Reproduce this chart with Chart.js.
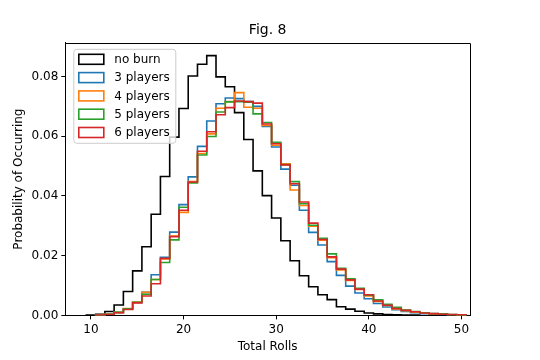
<!DOCTYPE html>
<html>
<head>
<meta charset="utf-8">
<script src="https://cdn.jsdelivr.net/npm/chart.js@4.4.1/dist/chart.umd.min.js"></script>
<style>
  body { margin: 0; background: #fff; }
  #wrap { width: 540px; height: 360px; }
</style>
</head>
<body>
<div id="wrap"><canvas id="histChart" width="540" height="360"></canvas></div>
<script>
// Bin centres (total rolls), bins are 1 wide
const totals = [10, 11, 12, 13, 14, 15, 16, 17, 18, 19, 20, 21, 22, 23, 24, 25, 26, 27, 28, 29,
  30, 31, 32, 33, 34, 35, 36, 37, 38, 39, 40, 41, 42, 43, 44, 45, 46, 47, 48, 49, 50];

const noBurn = [0.0001, 0.0004, 0.0013, 0.0035, 0.0080, 0.0149, 0.0230, 0.0339, 0.0465, 0.0597,
  0.0693, 0.0802, 0.0841, 0.0870, 0.0799, 0.0766, 0.0679, 0.0589, 0.0484, 0.0401,
  0.0326, 0.0250, 0.0183, 0.0133, 0.0096, 0.0069, 0.0053, 0.0029, 0.0021, 0.0014,
  0.0008, 0.0005, 0.0003, 0.0002, 0.0001, 0.0001, 0, 0, 0, 0, 0];
const players3 = [0, 0.0001, 0.0004, 0.0010, 0.0022, 0.0043, 0.0077, 0.0136, 0.0195, 0.0279,
  0.0371, 0.0464, 0.0566, 0.0651, 0.0709, 0.0728, 0.0726, 0.0716, 0.0700, 0.0633,
  0.0564, 0.0490, 0.0436, 0.0352, 0.0278, 0.0236, 0.0180, 0.0134, 0.0098, 0.0075,
  0.0056, 0.0040, 0.0028, 0.0019, 0.0013, 0.0009, 0.0006, 0.0004, 0.0003, 0.0002, 0.0001];
const players4 = [0, 0.0001, 0.0004, 0.0010, 0.0023, 0.0045, 0.0077, 0.0120, 0.0189, 0.0266,
  0.0345, 0.0448, 0.0542, 0.0608, 0.0694, 0.0716, 0.0746, 0.0697, 0.0694, 0.0636,
  0.0570, 0.0508, 0.0420, 0.0368, 0.0299, 0.0252, 0.0193, 0.0152, 0.0117, 0.0087,
  0.0065, 0.0047, 0.0033, 0.0022, 0.0016, 0.0011, 0.0008, 0.0005, 0.0004, 0.0002, 0.0001];
const players5 = [0, 0.0001, 0.0004, 0.0010, 0.0022, 0.0044, 0.0071, 0.0120, 0.0177, 0.0253,
  0.0362, 0.0444, 0.0537, 0.0599, 0.0681, 0.0715, 0.0716, 0.0714, 0.0675, 0.0646,
  0.0580, 0.0505, 0.0448, 0.0374, 0.0302, 0.0258, 0.0206, 0.0158, 0.0123, 0.0091,
  0.0068, 0.0052, 0.0037, 0.0027, 0.0018, 0.0013, 0.0009, 0.0006, 0.0005, 0.0003, 0.0002];
const players6 = [0, 0.0001, 0.0003, 0.0009, 0.0020, 0.0042, 0.0065, 0.0106, 0.0191, 0.0264,
  0.0352, 0.0447, 0.0550, 0.0615, 0.0672, 0.0696, 0.0718, 0.0716, 0.0711, 0.0641,
  0.0575, 0.0504, 0.0441, 0.0380, 0.0309, 0.0254, 0.0196, 0.0155, 0.0119, 0.0088,
  0.0069, 0.0048, 0.0034, 0.0023, 0.0017, 0.0012, 0.0008, 0.0006, 0.0004, 0.0003, 0.0002];

const seriesLabels = ['no burn', '3 players', '4 players', '5 players', '6 players'];
const seriesColors = ['#000000', '#1f77b4', '#ff7f0e', '#2ca02c', '#d62728'];
const xTicks = [10, 20, 30, 40, 50];
const yTicks = [0, 0.02, 0.04, 0.06, 0.08];

const FONT = 'DejaVu Sans';

// turn bin values into an outline like matplotlib's histtype='step'
function stepPoints(values) {
  let first = values.findIndex(v => v > 0);
  let last = values.length - 1;
  while (last > first && values[last] === 0) last--;
  const pts = [{x: totals[first] - 0.5, y: 0}];
  for (let i = first; i <= last; i++) {
    pts.push({x: totals[i] - 0.5, y: values[i]});
  }
  pts.push({x: totals[last] + 0.5, y: 0});
  return pts;
}

const allSeries = [noBurn, players3, players4, players5, players6];

const histData = {
  datasets: allSeries.map((vals, i) => ({
    label: seriesLabels[i],
    data: stepPoints(vals),
    borderColor: seriesColors[i],
    borderWidth: 1.6,
    pointRadius: 0,
    fill: false,
    stepped: true,
    order: allSeries.length - i // later series drawn on top
  }))
};

// legend box drawn inside the axes, top left
const stepLegend = {
  id: 'stepLegend',
  afterDatasetsDraw(chart) {
    const {ctx, chartArea} = chart;
    const x0 = chartArea.left + 8;
    const y0 = chartArea.top + 6;
    const w = 102, h = 94, r = 3;
    ctx.save();
    ctx.beginPath();
    ctx.roundRect(x0 + 0.5, y0 + 0.5, w, h, r);
    ctx.fillStyle = 'rgba(255,255,255,0.8)';
    ctx.fill();
    ctx.strokeStyle = '#cccccc';
    ctx.lineWidth = 1;
    ctx.stroke();
    ctx.font = '12px ' + FONT;
    ctx.textBaseline = 'middle';
    ctx.textAlign = 'left';
    chart.data.datasets.forEach((ds, i) => {
      const cy = y0 + 10.5 + i * 18.3;
      ctx.strokeStyle = ds.borderColor;
      ctx.lineWidth = 1.6;
      ctx.strokeRect(x0 + 5.5, cy - 5, 25, 10);
      ctx.fillStyle = '#000';
      ctx.fillText(ds.label, x0 + 41, cy + 0.5);
    });
    ctx.restore();
  }
};

// top and right spines
const frame = {
  id: 'frame',
  afterDraw(chart) {
    const {ctx, chartArea: a} = chart;
    ctx.save();
    ctx.strokeStyle = '#000';
    ctx.lineWidth = 1;
    ctx.beginPath();
    ctx.moveTo(Math.round(a.left) + 0.5, Math.round(a.top) + 0.5);
    ctx.lineTo(Math.round(a.right) + 0.5, Math.round(a.top) + 0.5);
    ctx.lineTo(Math.round(a.right) + 0.5, Math.round(a.bottom) + 0.5);
    ctx.stroke();
    ctx.restore();
  }
};

const histConfig = {
  type: 'line',
  data: histData,
  options: {
    responsive: false,
    animation: false,
    events: [],
    layout: {
      padding: {left: 0, right: 70, top: 0, bottom: 0}
    },
    scales: {
      x: {
        type: 'linear',
        min: 7.23,
        max: 50.92,
        afterBuildTicks: (s) => { s.ticks = xTicks.map(v => ({value: v})); },
        afterFit: (s) => { s.height = 44.6; },
        grid: {drawOnChartArea: false, drawTicks: true, tickLength: 4, tickColor: '#000'},
        border: {display: true, color: '#000', width: 1},
        ticks: {color: '#000', padding: 3, maxRotation: 0, font: {family: FONT, size: 12}},
        title: {
          display: true,
          text: 'Total Rolls',
          color: '#000',
          font: {family: FONT, size: 12},
          padding: {top: 0, bottom: 6}
        }
      },
      y: {
        type: 'linear',
        min: 0,
        max: 0.0913,
        afterBuildTicks: (s) => { s.ticks = yTicks.map(v => ({value: v})); },
        afterFit: (s) => { s.width = 65.3; },
        grid: {drawOnChartArea: false, drawTicks: true, tickLength: 4, tickColor: '#000'},
        border: {display: true, color: '#000', width: 1},
        ticks: {
          color: '#000',
          padding: 3,
          font: {family: FONT, size: 12},
          callback: (v) => v.toFixed(2)
        },
        title: {
          display: true,
          text: 'Probability of Occurring',
          color: '#000',
          font: {family: FONT, size: 12},
          padding: {top: 12, bottom: 0}
        }
      }
    },
    plugins: {
      legend: {display: false},
      tooltip: {enabled: false},
      title: {
        display: true,
        text: 'Fig. 8',
        fullSize: false,
        color: '#000',
        font: {family: FONT, size: 14, weight: 'normal'},
        padding: {top: 22, bottom: 4}
      }
    }
  },
  plugins: [stepLegend, frame]
};

const histChart = new Chart(document.getElementById('histChart'), histConfig);
</script>
</body>
</html>
